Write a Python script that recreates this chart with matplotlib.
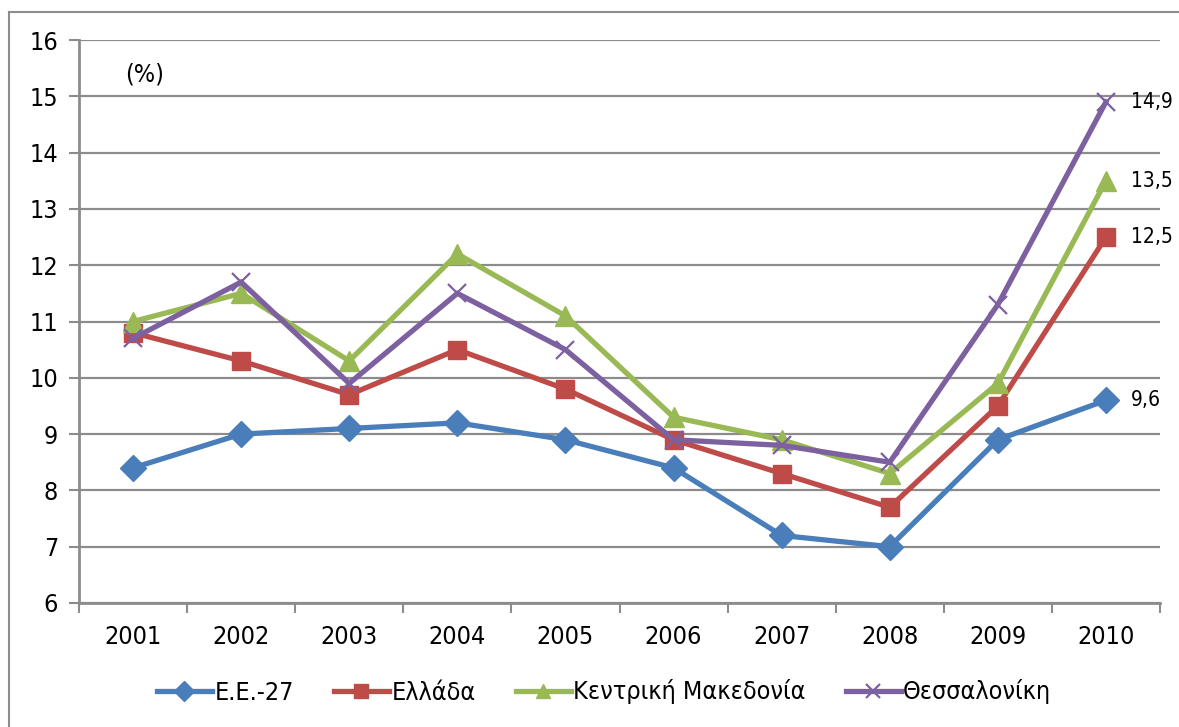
import matplotlib
matplotlib.use("Agg")
import matplotlib.pyplot as plt
from matplotlib.lines import Line2D
from matplotlib import font_manager

years = ["2001", "2002", "2003", "2004", "2005", "2006", "2007", "2008", "2009", "2010"]
eu27 = [8.4, 9.0, 9.1, 9.2, 8.9, 8.4, 7.2, 7.0, 8.9, 9.6]
greece = [10.8, 10.3, 9.7, 10.5, 9.8, 8.9, 8.3, 7.7, 9.5, 12.5]
kentriki = [11.0, 11.5, 10.3, 12.2, 11.1, 9.3, 8.9, 8.3, 9.9, 13.5]
thess = [10.7, 11.7, 9.9, 11.5, 10.5, 8.9, 8.8, 8.5, 11.3, 14.9]
labels = ["Ε.Ε.-27", "Ελλάδα", "Κεντρική Μακεδονία", "Θεσσαλονίκη"]
end_labels = ["9,6", "12,5", "13,5", "14,9"]
yticks = [6, 7, 8, 9, 10, 11, 12, 13, 14, 15, 16]

plt.rcParams['font.family'] = ['DejaVu Sans']
plt.rcParams['font.stretch'] = 'condensed'
print(font_manager.findfont(font_manager.FontProperties(family='DejaVu Sans', stretch='condensed')))

W, H = 1179, 727
fig = plt.figure(figsize=(W / 100, H / 100), dpi=100)
ax = fig.add_axes([79 / W, 1 - 603 / H, (1160 - 79) / W, (603 - 40) / H])

grid_c = "#8c8c8c"
x = list(range(len(years)))
series = [
    (eu27, "#4A7EBB", "D", 13, 1),
    (greece, "#BE4B48", "s", 13, 1),
    (kentriki, "#98B954", "^", 14, 1),
    (thess, "#7D60A0", "x", 13, 1.6),
]
handles = []
for (vals, c, m, ms, mew), lab in zip(series, labels):
    h, = ax.plot(x, vals, color=c, lw=3.8, marker=m, ms=ms, mew=mew,
                 mec=c, mfc=c, label=lab, zorder=3, solid_joinstyle='miter')
    handles.append(h)

for (vals, *_), t in zip(series, end_labels):
    ax.annotate(t, (x[-1], vals[-1]), xytext=(18, 0), textcoords="offset points",
                va="center", ha="left", fontsize=15)

ax.set_xlim(-0.5, len(years) - 0.5)
ax.set_ylim(6, 16)
ax.set_yticks(yticks)
ax.set_yticklabels([str(v) for v in yticks])
ax.set_xticks(x)
ax.set_xticklabels(years)
ax.set_xticks([i - 0.5 for i in range(len(years) + 1)], minor=True)
ax.tick_params(axis='x', which='major', length=0, pad=16, labelsize=18)
ax.tick_params(axis='x', which='minor', length=7, width=1.5, color=grid_c, direction='out')
ax.tick_params(axis='y', length=7, width=1.5, color=grid_c, pad=8, labelsize=18)

ax.grid(axis='y', color=grid_c, lw=1.6, zorder=0)
ax.set_axisbelow(True)
for s in ["top", "right"]:
    ax.spines[s].set_visible(False)
for s in ["left", "bottom"]:
    ax.spines[s].set_color(grid_c)
    ax.spines[s].set_linewidth(2)

ax.text(0.043, 0.96, "(%)", transform=ax.transAxes, fontsize=18, va="top", ha="left")

leg_handles = [Line2D([], [], color=h.get_color(), lw=3.8, marker=h.get_marker(),
                      ms=10, mew=h.get_markeredgewidth(), mec=h.get_color(),
                      mfc=h.get_color()) for h in handles]
fig.legend(handles=leg_handles, labels=labels, loc="center", bbox_to_anchor=(604 / W, 1 - 692 / H),
           ncol=4, frameon=False, fontsize=18, handlelength=2.2, columnspacing=1.6,
           handletextpad=0.1)

# outer chart border
bx, by = 9 / W, 1 - 12 / H
fig.add_artist(Line2D([bx, bx], [0, by], transform=fig.transFigure, color="#8c8c8c", lw=1.5))
fig.add_artist(Line2D([bx, 1], [by, by], transform=fig.transFigure, color="#8c8c8c", lw=1.5))

fig.savefig("out.png", dpi=100)
